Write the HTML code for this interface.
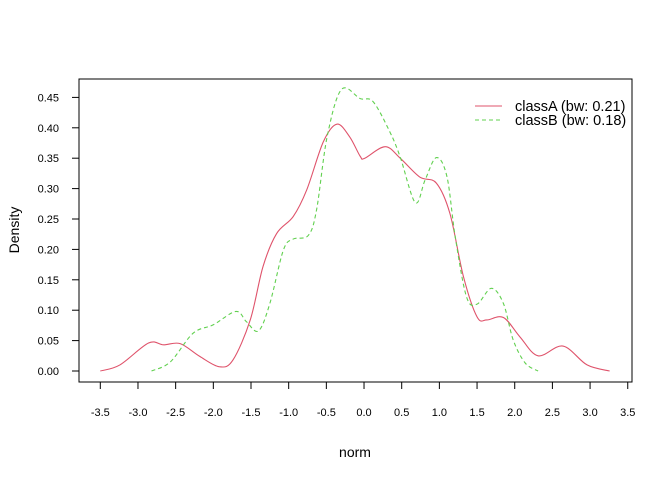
<!DOCTYPE html>
<html><head><meta charset="utf-8"><style>body{margin:0;background:#fff}svg{display:block;font-family:"Liberation Sans",Arial,sans-serif}</style></head>
<body>
<svg id="chart" width="672" height="480"></svg>
<script>
const xTicks=[-3.5,-3.0,-2.5,-2.0,-1.5,-1.0,-0.5,0.0,0.5,1.0,1.5,2.0,2.5,3.0,3.5];
const yTicks=[0,0.05,0.10,0.15,0.20,0.25,0.30,0.35,0.40,0.45];
const classAx=[-3.5,-3.24,-2.86,-2.66,-2.44,-2.18,-1.92,-1.74,-1.51,-1.34,-1.16,-0.94,-0.76,-0.54,-0.36,-0.19,-0.05,0.01,0.28,0.48,0.74,0.96,1.14,1.32,1.50,1.63,1.85,2.07,2.31,2.64,2.96,3.26];
const classAy=[0,0.01,0.046,0.043,0.045,0.024,0.007,0.018,0.084,0.172,0.226,0.254,0.298,0.377,0.406,0.385,0.353,0.35,0.369,0.35,0.319,0.309,0.259,0.155,0.089,0.084,0.088,0.056,0.025,0.041,0.01,0.0];
const classBx=[-2.82,-2.57,-2.27,-2.0,-1.70,-1.56,-1.40,-1.25,-1.07,-0.94,-0.74,-0.63,-0.49,-0.30,-0.05,0.12,0.34,0.48,0.68,0.81,0.96,1.10,1.21,1.36,1.50,1.69,1.85,1.98,2.14,2.31];
const classBy=[0,0.015,0.062,0.076,0.098,0.081,0.066,0.111,0.199,0.217,0.223,0.265,0.385,0.463,0.448,0.443,0.394,0.352,0.277,0.314,0.351,0.32,0.221,0.122,0.11,0.136,0.111,0.051,0.013,0];
const NS="http://www.w3.org/2000/svg";
const svg=document.getElementById('chart');
const X=v=>100.3+(v+3.5)*75.35;
const Y=v=>371-v*608;
function el(t,a,txt){const e=document.createElementNS(NS,t);for(const k in a)e.setAttribute(k,a[k]);if(txt!==undefined)e.textContent=txt;svg.appendChild(e);return e;}
let e=el('rect',{x:79,y:79,width:553,height:303,fill:'none',stroke:'#000','stroke-width':1});


xTicks.forEach(t=>{const px=X(t);
 let l=el('line',{x1:px,x2:px,y1:382,y2:389,stroke:'#000'});
 
 
 let s=el('text',{x:px,y:416,'font-size':11,'text-anchor':'middle'},t.toFixed(1));
 
 
});
yTicks.forEach(t=>{const py=Y(t);
 let l=el('line',{x1:72,x2:79,y1:py,y2:py,stroke:'#000'});
 
 
 let s=el('text',{x:59,y:py+4,'font-size':11,'text-anchor':'end'},t.toFixed(2));
 
 
});
e=el('text',{x:355,y:457,'font-size':14,'text-anchor':'middle'},'norm');


e=el('text',{x:19,y:230,'font-size':14,'text-anchor':'middle',transform:'rotate(-90 19 230)'},'Density');


function path(xs,ys){const p=xs.map((x,i)=>[X(x),Y(ys[i])]);let d='M'+p[0][0]+','+p[0][1];
 for(let i=0;i<p.length-1;i++){const p0=p[i-1]||p[i],p1=p[i],p2=p[i+1],p3=p[i+2]||p2;
  const c1=[p1[0]+(p2[0]-p0[0])/6,p1[1]+(p2[1]-p0[1])/6],c2=[p2[0]-(p3[0]-p1[0])/6,p2[1]-(p3[1]-p1[1])/6];
  d+=` C${c1[0]},${c1[1]} ${c2[0]},${c2[1]} ${p2[0]},${p2[1]}`;}
 return d;}
e=el('path',{d:path(classAx,classAy),fill:'none',stroke:'#DF536B','stroke-width':1.1});


e=el('path',{d:path(classBx,classBy),fill:'none',stroke:'#61D04F','stroke-width':1.1,'stroke-dasharray':'4,3'});


e=el('line',{x1:475,x2:502,y1:106,y2:106,stroke:'#DF536B'});


e=el('line',{x1:475,x2:502,y1:120,y2:120,stroke:'#61D04F','stroke-dasharray':'4,3'});


e=el('text',{x:515,y:111,'font-size':14.5},'classA (bw: 0.21)');


e=el('text',{x:515,y:125,'font-size':14.5},'classB (bw: 0.18)');


</script>
</body></html>
